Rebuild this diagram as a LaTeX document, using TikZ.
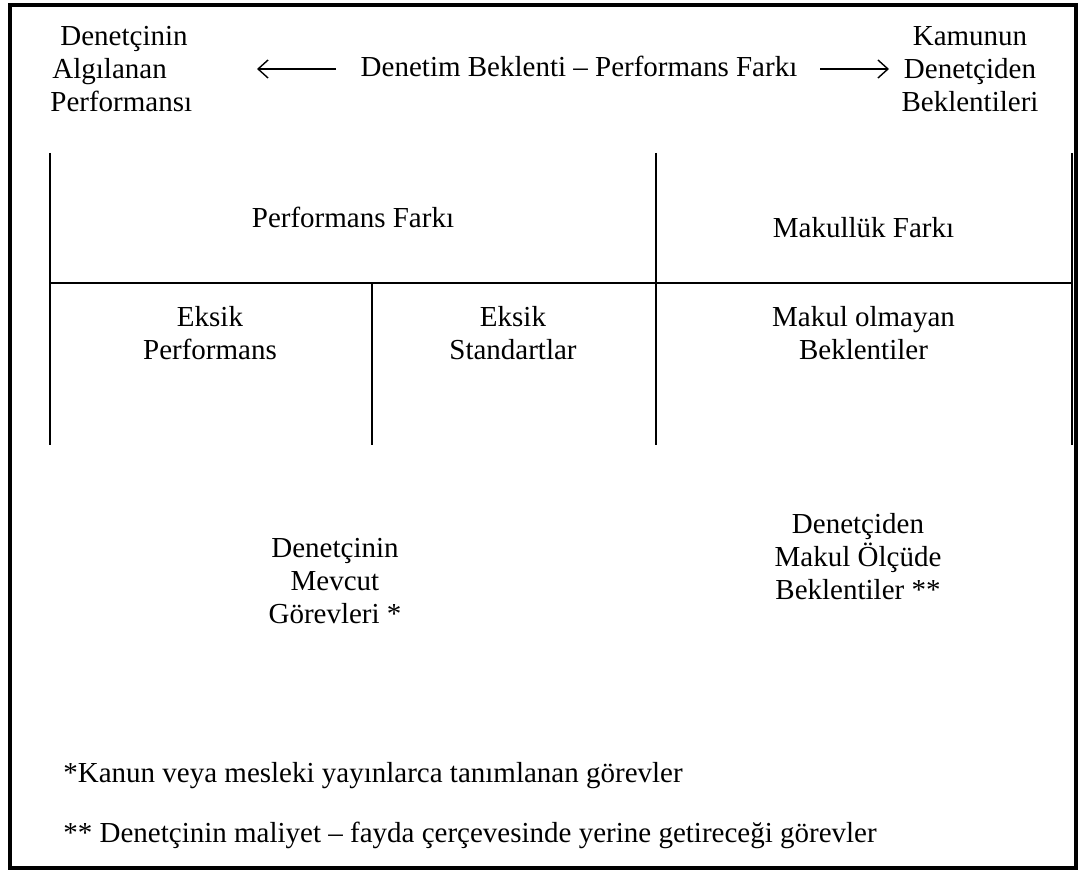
\documentclass[tikz,border=0pt]{standalone}
\usepackage{fontspec}
\setmainfont{Liberation Serif}
\usetikzlibrary{arrows.meta}
\begin{document}
\begin{tikzpicture}[x=0.5pt,y=-0.5pt,
  txt/.style={font=\fontsize{14.5pt}{16.5pt}\selectfont, inner sep=0pt, align=center, anchor=base},
  tbl/.style={line width=1pt},
  frm/.style={line width=2.3pt},
  arr/.style={line width=0.7pt, -{Straight Barb[length=5pt,width=9pt,line width=0.7pt]}}]
\useasboundingbox (0,0) rectangle (1081,870);
\draw[frm] (10,5) rectangle (1076,868);
% header (base anchor = baseline of last line)
\node[txt, align=left, anchor=base west] (alg) at (50,112) {\hspace{5pt}Denetçinin\\\hspace{1pt}Algılanan\\Performansı};
\node[txt] (gap) at (579,77) {Denetim Beklenti – Performans Farkı};
\node[txt] (kam) at (970,112) {Kamunun\\Denetçiden\\Beklentileri};
\coordinate (la1) at (336,69);
\coordinate (la2) at (257,69);
\coordinate (ra1) at (820,69);
\coordinate (ra2) at (889,69);
\draw[arr] (la1) -- (la2);
\draw[arr] (ra1) -- (ra2);
% table
\coordinate (t1) at (50,153);
\coordinate (t2) at (50,445);
\coordinate (t3) at (656,153);
\coordinate (t4) at (656,445);
\coordinate (t5) at (1072,153);
\coordinate (t6) at (1072,445);
\coordinate (h1) at (50,283);
\coordinate (h2) at (1072,283);
\coordinate (m1) at (372,283);
\coordinate (m2) at (372,445);
\draw[tbl] (t1) -- (t2);
\draw[tbl] (t3) -- (t4);
\draw[tbl] (t5) -- (t6);
\draw[tbl] (h1) -- (h2);
\draw[tbl] (m1) -- (m2);
\node[txt] (pf) at (353,228) {Performans Farkı};
\node[txt] (mf) at (863.5,238) {Makullük Farkı};
\node[txt] (ep) at (210,360) {Eksik\\Performans};
\node[txt] (es) at (513,360) {Eksik\\Standartlar};
\node[txt] (mo) at (863.5,360) {Makul olmayan\\Beklentiler};
% lower texts
\node[txt] (mg) at (335,624) {Denetçinin\\Mevcut\\Görevleri *};
\node[txt] (mb) at (858,600) {Denetçiden\\Makul Ölçüde\\Beklentiler **};
% footnotes
\node[txt, anchor=base west] (fn1) at (63,782) {*Kanun veya mesleki yayınlarca tanımlanan görevler};
\node[txt, anchor=base west] (fn2) at (63,842) {** Denetçinin maliyet – fayda çerçevesinde yerine getireceği görevler};
\end{tikzpicture}
\end{document}
